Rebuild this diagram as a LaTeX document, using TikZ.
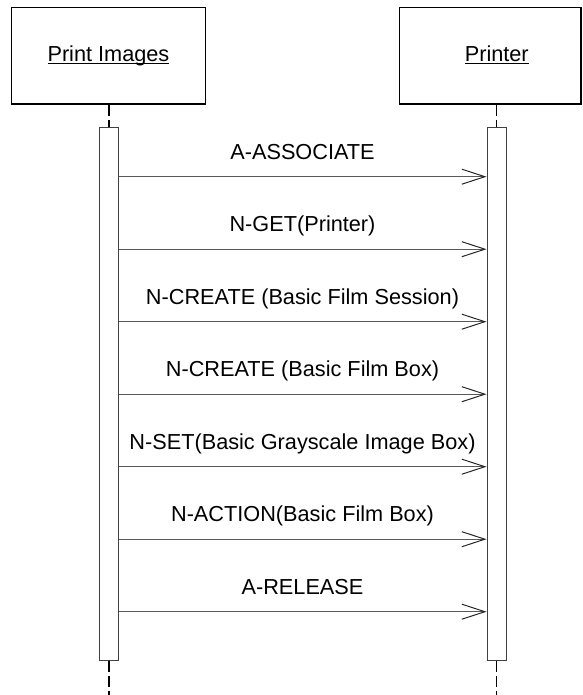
\documentclass[tikz,border=0pt]{standalone}
\usepackage{fontspec}
\setmainfont{Liberation Sans}
\usetikzlibrary{arrows.meta}
\newcommand\myul[1]{\setbox0\hbox{#1}\rlap{\rule[-2.8pt]{\wd0}{1.2pt}}\box0}
\begin{document}
\begin{tikzpicture}[x=1pt,y=-1pt,
  obj/.style={draw=black, line width=1.3pt, inner sep=0pt, minimum height=96.7pt,
    text height=16pt, text depth=4pt, font=\fontsize{21.7}{26}\selectfont},
  act/.style={draw=black!75, line width=1pt, fill=white, minimum width=19.4pt,
    minimum height=532pt, inner sep=0pt},
  life/.style={draw=black, line width=1.3pt, dash pattern=on 11pt off 4pt},
  msg/.style={draw=black!65, line width=1.2pt,
    -{Straight Barb[length=23pt,width=15pt,line width=1pt,color=black!85]}},
  lbl/.style={font=\fontsize{21.7}{26}\selectfont, anchor=base, inner sep=0pt}]
\useasboundingbox (0,0) rectangle (582,695);
% objects
\node[obj, minimum width=193.5pt] (pi) at (108.45,55.65) {\myul{Print Images}};
\node[obj, minimum width=181.5pt] (pr) at (490.25,55.65) {\hspace*{13pt}\myul{Printer}};
% activation bars
\node[act] (pibar) at (109,394) {};
\node[act] (prbar) at (496.7,394) {};
% lifelines
\coordinate (piend) at (109,695);
\coordinate (prend) at (496.7,695);
\draw[life] (pibar.north |- pi.south) -- (pibar.north);
\draw[life] (prbar.north |- pr.south) -- (prbar.north);
\draw[life] (pibar.south) -- (piend);
\draw[life] (prbar.south) -- (prend);
% messages
\foreach \i/\y/\t in {1/176.7/A-ASSOCIATE,
                      2/249.2/N-GET(Printer),
                      3/321.7/N-CREATE (Basic Film Session),
                      4/394.2/N-CREATE (Basic Film Box),
                      5/466.7/N-SET(Basic Grayscale Image Box),
                      6/539.2/N-ACTION(Basic Film Box),
                      7/611.7/A-RELEASE}{
  \coordinate (m\i) at (302.5,\y);
  \draw[msg] (pibar.east |- m\i) -- (prbar.west |- m\i);
  \node[lbl] (l\i) at (302.5,\y-17.4) {\t};
}
\end{tikzpicture}
\end{document}
